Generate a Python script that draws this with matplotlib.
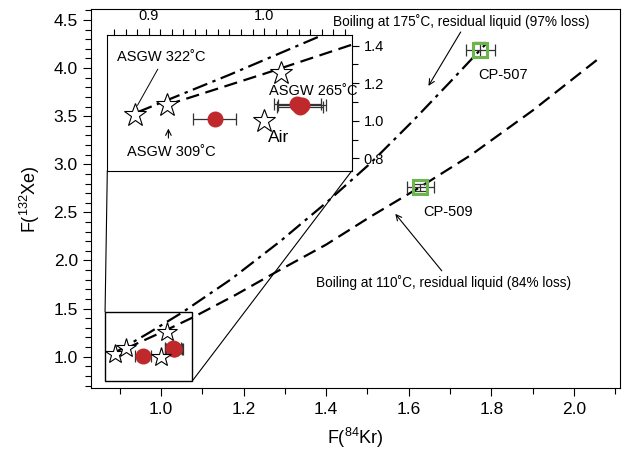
import matplotlib
matplotlib.use("Agg")
import matplotlib.pyplot as plt
from matplotlib.patches import Rectangle, ConnectionPatch
from matplotlib.ticker import MultipleLocator

plt.rcParams['font.family'] = ['Liberation Sans', 'DejaVu Sans']
plt.rcParams['mathtext.fontset'] = 'custom'
plt.rcParams['mathtext.rm'] = 'Liberation Sans'
plt.rcParams['mathtext.it'] = 'Liberation Sans:italic'

# ---- data ----
star_names = ["ASGW 322˚C", "ASGW 309˚C", "Air", "ASGW 265˚C"]
star_kr = [0.888, 0.916, 1.000, 1.015]
star_xe = [1.032, 1.085, 1.000, 1.256]

red_kr = [0.957, 1.029, 1.033, 1.031]
red_xe = [1.011, 1.087, 1.083, 1.075]
red_kr_err = [0.019, 0.020, 0.021, 0.020]

cp_names = ["CP-507", "CP-509"]
cp_kr = [1.773, 1.628]
cp_xe = [4.19, 2.76]
cp_kr_err = [0.035, 0.033]
cp_xe_err = [0.08, 0.04]

# boiling curve at 175 C (dash-dot)
b175_kr = [0.890, 0.970, 1.052, 1.170, 1.289, 1.400, 1.507, 1.612, 1.700, 1.785]
b175_xe = [1.045, 1.245, 1.460, 1.805, 2.200, 2.600, 3.010, 3.460, 3.856, 4.245]
# boiling curve at 110 C (dashed)
b110_kr = [0.916, 1.000, 1.076, 1.180, 1.281, 1.400, 1.507, 1.628, 1.750, 1.900, 2.055]
b110_xe = [1.085, 1.250, 1.405, 1.640, 1.885, 2.165, 2.455, 2.765, 3.095, 3.560, 4.084]

red = '#c0292b'
green = '#6cb54a'

fig = plt.figure(figsize=(6.29, 4.54), dpi=100)
ax = fig.add_axes([0.1447, 0.1447, 0.8410, 0.8348])
ax.set_xlim(0.831, 2.111)
ax.set_ylim(0.671, 4.611)


def draw(a, star_ms, dot_ms):
    a.plot(b175_kr, b175_xe, color='black', lw=1.6, dashes=(7, 2.5, 1.5, 2.5), zorder=2)
    a.plot(b110_kr, b110_xe, color='black', lw=1.6, dashes=(6, 3), zorder=2)
    a.errorbar(red_kr, red_xe, xerr=red_kr_err, fmt='none', ecolor='#333333',
               elinewidth=0.9, capsize=4, capthick=0.9, zorder=3)
    a.plot(red_kr, red_xe, 'o', color=red, ms=dot_ms, mec=red, zorder=4)
    a.plot(star_kr, star_xe, '*', mfc='white', mec='black', mew=0.8, ms=star_ms,
           ls='none', zorder=5)


draw(ax, 15, 10.5)
ax.errorbar(cp_kr, cp_xe, xerr=cp_kr_err, yerr=cp_xe_err, fmt='none', ecolor='#333333',
            elinewidth=0.9, capsize=4, capthick=0.9, zorder=3)
ax.plot(cp_kr, cp_xe, 's', mfc='none', mec=green, mew=2.2, ms=10, ls='none', zorder=6)
ax.text(1.8275, 3.928, cp_names[0], ha='center', va='center', fontsize=10.5)
ax.text(1.694, 2.507, cp_names[1], ha='center', va='center', fontsize=10.5)

ax.text(1.726, 4.482, "Boiling at 175˚C, residual liquid (97% loss)",
        ha='center', va='center', fontsize=9.8)
ax.annotate("", xy=(1.644, 3.79), xytext=(1.729, 4.40),
            arrowprops=dict(arrowstyle='->', color='black', lw=0.8))
ax.text(1.683, 1.773, "Boiling at 110˚C, residual liquid (84% loss)",
        ha='center', va='center', fontsize=9.8)
ax.annotate("", xy=(1.563, 2.507), xytext=(1.684, 1.87),
            arrowprops=dict(arrowstyle='->', color='black', lw=0.8))

ax.xaxis.set_major_locator(MultipleLocator(0.2))
ax.xaxis.set_minor_locator(MultipleLocator(0.1))
ax.yaxis.set_major_locator(MultipleLocator(0.5))
ax.yaxis.set_minor_locator(MultipleLocator(0.1))
ax.tick_params(which='both', direction='out', top=False, right=False, labelsize=12.5)
ax.tick_params(which='major', length=6, width=0.8)
ax.tick_params(which='minor', length=4, width=0.8)
ax.set_xlabel(r"F($^{84}$Kr)", fontsize=13, labelpad=7)
ax.set_ylabel(r"F($^{132}$Xe)", fontsize=13, labelpad=8)

# zoom rectangle on main plot
rx0, rx1, ry0, ry1 = 0.865, 1.076, 0.747, 1.465
ax.add_patch(Rectangle((rx0, ry0), rx1 - rx0, ry1 - ry0, fill=False, ec='black', lw=1.0, zorder=7))

# inset
ins = fig.add_axes([0.1706, 0.6233, 0.3885, 0.2996])
ins.set_xlim(0.864, 1.076)
ins.set_ylim(0.732, 1.457)
draw(ins, 17, 10.5)
ins.xaxis.tick_top()
ins.yaxis.tick_right()
ins.xaxis.set_major_locator(MultipleLocator(0.1))
ins.xaxis.set_minor_locator(MultipleLocator(0.01))
ins.yaxis.set_major_locator(MultipleLocator(0.2))
ins.yaxis.set_minor_locator(MultipleLocator(0.1))
ins.tick_params(which='both', direction='out', labelsize=10.5, width=0.8)
ins.tick_params(which='major', length=5)
ins.tick_params(which='minor', length=4)

ins.text(0.911, 1.339, star_names[0], ha='center', va='center', fontsize=10.5)
ins.annotate("", xy=(0.889, 1.069), xytext=(0.909, 1.288),
             arrowprops=dict(arrowstyle='-', color='black', lw=0.7))
ins.text(0.9195, 0.832, star_names[1], ha='center', va='center', fontsize=10.5)
ins.annotate("", xy=(0.917, 0.973), xytext=(0.917, 0.893),
             arrowprops=dict(arrowstyle='->', color='black', lw=0.8))
ins.text(1.043, 1.161, star_names[3], ha='center', va='center', fontsize=10.5, clip_on=False, zorder=8)
ins.text(1.0125, 0.912, star_names[2], ha='center', va='center', fontsize=12.5)

# connector lines
for pa, pb in [((0, 0), (rx0, ry1)), ((1, 0), (rx1, ry0))]:
    con = ConnectionPatch(xyA=pa, coordsA=ins.transAxes, xyB=pb, coordsB=ax.transData,
                          color='black', lw=0.8)
    fig.add_artist(con)

fig.savefig("out.png", dpi=100)
